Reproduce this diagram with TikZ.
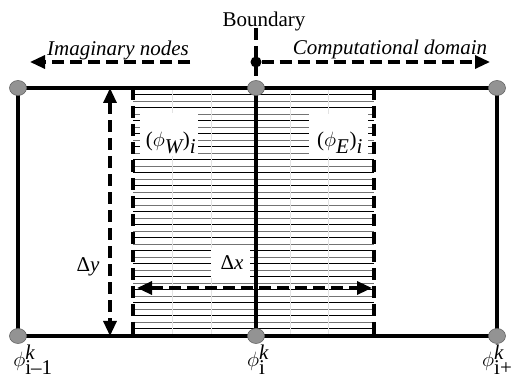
\documentclass[tikz,border=0pt]{standalone}
\usepackage{fontspec}
\setmainfont{Liberation Serif}
\usetikzlibrary{arrows.meta,shapes.geometric}
\begin{document}
\begin{tikzpicture}[x=1pt,y=-1pt,
  every node/.style={font=\fontsize{21}{25}\selectfont},
  thickline/.style={line width=3.2pt},
  dashline/.style={line width=3.2pt, dash pattern=on 12pt off 6pt},
  gridnode/.style={ellipse, fill=gray!85, draw=black!60, line width=0.6pt, minimum width=17pt, minimum height=15pt, inner sep=0pt},
  arr/.style={-{Triangle[length=15pt,width=13pt]}},
  darr/.style={{Triangle[length=15pt,width=13pt]}-{Triangle[length=15pt,width=13pt]}},
  hatchA/.style={line width=0.9pt, black},
  hatchB/.style={line width=0.8pt, black!55},
  lbl/.style={inner sep=0pt},
  botlbl/.style={inner sep=0pt, anchor=base}]
\useasboundingbox (0,0) rectangle (512,379);
% corner coordinates
\coordinate (TL) at (18,88);
\coordinate (TM) at (256,88);
\coordinate (TR) at (497,88);
\coordinate (BL) at (18,336);
\coordinate (BM) at (256,336);
\coordinate (BR) at (497,336);
% hatched cell
\foreach \y [count=\n] in {94.5,101,...,333}{
  \ifodd\n
    \draw[hatchA] (133,\y) -- (374,\y);
  \else
    \draw[hatchB] (133,\y) -- (374,\y);
  \fi
}
\foreach \x in {172,211,290,328}{
  \draw[gray!22, line width=0.4pt] (\x,90) -- (\x,334);
}
\draw[gray!60, line width=0.8pt, dash pattern=on 6pt off 4pt] (133,334) -- (374,334);
% white label boxes
\fill[white] (140,113) rectangle (198,156);
\fill[white] (309,114) rectangle (368,157);
\fill[white] (211,248) rectangle (250,278);
\node[lbl] (phiW) at (171,143) {$\textup{(}\phi_{\textit{W}}\textup{)}_{\textit{i}}$};
\node[lbl] (phiE) at (340,143) {$\textup{(}\phi_{\textit{E}}\textup{)}_{\textit{i}}$};
\node[lbl] (dx) at (232,263) {Δ\textit{x}};
% dashed cell edges
\coordinate (WT) at (133,88); \coordinate (WB) at (133,336);
\coordinate (ET) at (374,88); \coordinate (EB) at (374,336);
\draw[dashline] (WT) -- (WB);
\draw[dashline] (ET) -- (EB);
% main frame
\draw[thickline] (TL) -- (TR) -- (BR) -- (BL) -- cycle;
\draw[thickline] (TM) -- (BM);
% boundary marker
\coordinate (bndTop) at (256,28);
\node[circle, fill=black, inner sep=0pt, minimum size=11pt] (dot) at (256,62) {};
\draw[dashline] (bndTop) -- (TM);
\node[anchor=base, inner sep=0pt] (bnd) at (264,27) {Boundary};
% domain arrows
\coordinate (imgStart) at (190,62);
\coordinate (imgEnd) at (30,62);
\coordinate (cmpEnd) at (490,62);
\draw[dashline, arr] (imgStart) -- (imgEnd);
\draw[dashline, arr] (dot) -- (cmpEnd);
\node[anchor=base, inner sep=0pt] (img) at (118,56) {\itshape Imaginary nodes};
\node[anchor=base, inner sep=0pt] (cmp) at (390,55) {\itshape Computational domain};
% delta arrows
\coordinate (dyT) at (110,88);
\coordinate (dyB) at (110,336);
\draw[dashline, darr] (dyT) -- (dyB);
\node[lbl] (dy) at (88,267) {Δ\textit{y}};
\coordinate (dxL) at (137,288);
\coordinate (dxR) at (372,288);
\draw[dashline, darr] (dxL) -- (dxR);
% grid nodes
\node[gridnode] (ntl) at (TL) {};
\node[gridnode] (ntm) at (TM) {};
\node[gridnode] (ntr) at (TR) {};
\node[gridnode] (nbl) at (BL) {};
\node[gridnode] (nbm) at (BM) {};
\node[gridnode] (nbr) at (BR) {};
% bottom labels
\node[botlbl] (l1) at (33,367) {$\phi^{\textit{k}}_{\textup{i–1}}$};
\node[botlbl] (l2) at (258,367) {$\phi^{\textit{k}}_{\textup{i}}$};
\node[botlbl, anchor=base west] (l3) at (482,367) {$\phi^{\textit{k}}_{\textup{i+1}}$};
\end{tikzpicture}
\end{document}
